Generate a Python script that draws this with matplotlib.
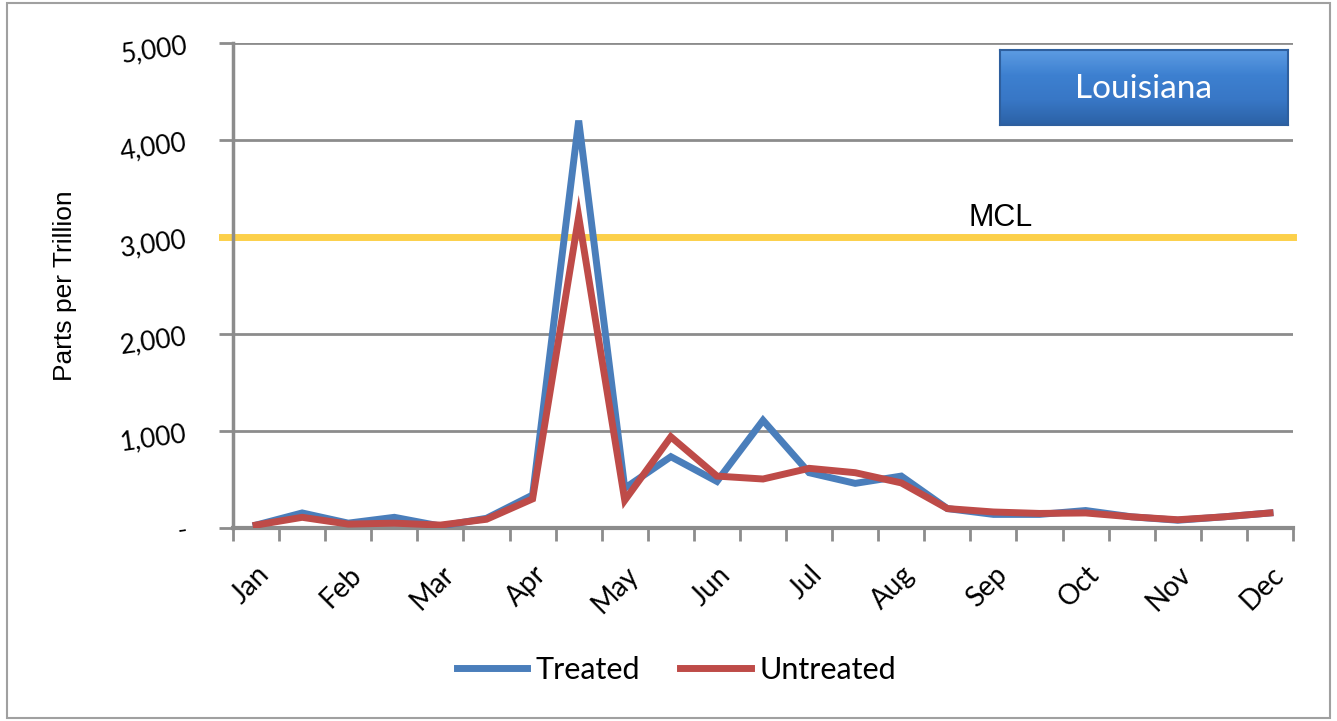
"""Louisiana treated vs untreated water samples, parts per trillion."""

import matplotlib
matplotlib.use("Agg")
import matplotlib.pyplot as plt
import numpy as np
from matplotlib.colors import LinearSegmentedColormap
from matplotlib.patches import Rectangle

month_labels = ["Jan", "Feb", "Mar", "Apr", "May", "Jun",
                "Jul", "Aug", "Sep", "Oct", "Nov", "Dec"]
treated = [30, 155, 50, 110, 20, 100, 340, 4200, 410, 735, 480, 1110,
           570, 460, 535, 200, 140, 140, 180, 115, 80, 115, 155]
untreated = [30, 110, 40, 50, 30, 90, 300, 3210, 285, 940, 535, 505,
             615, 570, 465, 200, 165, 150, 155, 115, 85, 115, 155]
mcl = 3000
y_ticks = [0, 1000, 2000, 3000, 4000, 5000]
y_tick_labels = ["-", "1,000", "2,000", "3,000", "4,000", "5,000"]

BLUE = "#4A7EBB"
RED = "#BE4B48"
GRID = "#8C8C8C"
CAL = ["Lato", "DejaVu Sans"]

fig = plt.figure(figsize=(13.37, 7.21), dpi=100)
fig.patches.append(Rectangle((0.005, 0.004), 0.99, 0.992, transform=fig.transFigure,
                             fill=False, edgecolor="#A0A0A0", linewidth=1.5))

ax = fig.add_axes([0.1743, 0.2677, 0.7928, 0.6727])
x = list(range(len(treated)))

ax.plot(x, treated, color=BLUE, linewidth=5, solid_joinstyle="miter",
        label="Treated", zorder=3)
ax.plot(x, untreated, color=RED, linewidth=5, solid_joinstyle="miter",
        label="Untreated", zorder=4)
ax.axhline(mcl, xmin=-0.01, color="#FCD04A", linewidth=5, zorder=2, clip_on=False)
ax.text(15.45, mcl + 45, "MCL", fontsize=22, family="Liberation Sans",
        ha="left", va="bottom")

ax.set_xlim(-0.5, len(treated) - 0.5)
ax.set_ylim(0, 5000)

ax.set_yticks(y_ticks)
ax.set_yticklabels(y_tick_labels, rotation=8, family=CAL, fontsize=19)
ax.yaxis.grid(True, color=GRID, linewidth=2)
ax.set_axisbelow(True)
ax.tick_params(axis="y", length=10, width=2, color=GRID, pad=22)

ax.set_xticks(list(range(0, len(treated), 2)))
ax.set_xticklabels(month_labels, rotation=45, ha="right", va="top",
                   rotation_mode="anchor", family=CAL, fontsize=20)
ax.tick_params(axis="x", which="major", length=0, pad=24)
ax.set_xticks([i - 0.5 for i in range(len(treated) + 1)], minor=True)
ax.tick_params(axis="x", which="minor", length=9, width=2, color=GRID)

for side in ["top", "right"]:
    ax.spines[side].set_visible(False)
ax.spines["left"].set_color(GRID)
ax.spines["left"].set_linewidth(2.5)
ax.spines["bottom"].set_color(GRID)
ax.spines["bottom"].set_linewidth(3)

ax.set_ylabel("Parts per Trillion", fontsize=19, family="Liberation Sans",
              labelpad=30)

# state tag in the upper right corner, drawn as a shaded button
box_rect = [0.748, 0.827, 0.215, 0.104]
fig.patches.append(Rectangle((box_rect[0] + 0.002, box_rect[1] - 0.008),
                             box_rect[2], box_rect[3], transform=fig.transFigure,
                             facecolor="#B0B0B0", edgecolor="none", zorder=-1))
tag = fig.add_axes(box_rect)
button_cmap = LinearSegmentedColormap.from_list(
    "button", ["#2C62A6", "#3877C6", "#3D80D0", "#5C9BE2"])
shade = np.linspace(1.0, 0.0, 60).reshape(-1, 1)
tag.imshow(shade, aspect="auto", cmap=button_cmap, extent=[0, 1, 0, 1])
tag.set_xticks([])
tag.set_yticks([])
for spine in tag.spines.values():
    spine.set_color("#2E5F9E")
    spine.set_linewidth(1.5)
tag.text(0.5, 0.47, "Louisiana", color="white", fontsize=24, family=CAL,
         ha="center", va="center", transform=tag.transAxes)

fig.legend(loc="center", bbox_to_anchor=(0.506, 0.071), ncol=2, frameon=False,
           prop={"family": CAL, "size": 22}, handlelength=2.3,
           handletextpad=0.3, columnspacing=1.3)

fig.savefig("out.png", dpi=100)
